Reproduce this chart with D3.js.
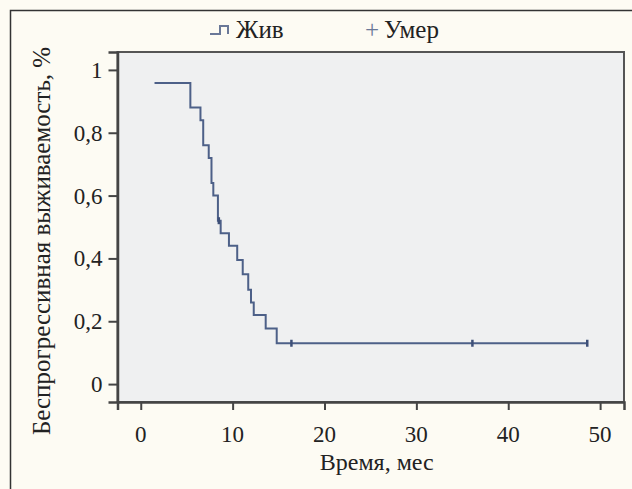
<!DOCTYPE html>
<html>
<head>
<meta charset="utf-8">
<script src="https://cdn.jsdelivr.net/npm/d3@7"></script>
<style>
  body { margin: 0; background: #fdfbf3; }
  .serif { font-family: "Liberation Serif"; fill: #222; }
</style>
</head>
<body>
<div id="chart"></div>
<script>
const width = 632;
const height = 489;

// Времена событий (мес) и выживаемость после каждого шага
const times = [1.5, 5.4, 6.5, 6.8, 7.4, 7.7, 7.9, 8.4, 8.7, 9.6, 10.5, 11.1, 11.7, 12.0, 12.3, 13.6, 14.8];
const survival = [0.958, 0.88, 0.84, 0.76, 0.72, 0.64, 0.60, 0.52, 0.48, 0.44, 0.395, 0.35, 0.30, 0.26, 0.22, 0.177, 0.13];
const endTime = 48.6;

// Цензурированные наблюдения
const censorTimes = [8.5, 16.4, 36.1, 48.6];
const censorValues = [0.52, 0.13, 0.13, 0.13];

const xTicks = [0, 10, 20, 30, 40, 50];
const yTicks = [0, 0.2, 0.4, 0.6, 0.8, 1];
const legendLabels = ["Жив", "Умер"];

const plot = { left: 117.5, right: 624, top: 52, bottom: 402 };

const svg = d3.select("#chart").append("svg")
    .attr("width", width)
    .attr("height", height);

// внешняя рамка
svg.append("rect")
    .attr("x", 10.5).attr("y", 10.5)
    .attr("width", 640).attr("height", 500)
    .attr("fill", "#fdfbf3")
    .attr("stroke", "#333")
    .attr("stroke-width", 1.5);

const x = d3.scaleLinear().domain([-2.53, 52.6]).range([plot.left, plot.right]);
const y = d3.scaleLinear().domain([-0.057, 1.057]).range([plot.bottom, plot.top]);

svg.append("rect")
    .attr("x", plot.left).attr("y", plot.top)
    .attr("width", plot.right - plot.left)
    .attr("height", plot.bottom - plot.top)
    .attr("fill", "#eff0f1")
    .attr("stroke", "#555")
    .attr("stroke-width", 2);

// оси (линии и засечки из d3.axis, подписи отдельно)
const fmt = d => d3.format("~g")(d).replace(".", ",");

const xAxis = svg.append("g")
    .attr("transform", `translate(0,${plot.bottom})`)
    .call(d3.axisBottom(x).tickValues(xTicks).tickSize(8).tickFormat(""));

const yAxis = svg.append("g")
    .attr("transform", `translate(${plot.left},0)`)
    .call(d3.axisLeft(y).tickValues(yTicks).tickSize(9).tickFormat(""));

[xAxis, yAxis].forEach(a => {
    a.select(".domain").attr("stroke", "#444").attr("stroke-width", 2.5);
    a.selectAll(".tick line").attr("stroke", "#444").attr("stroke-width", 2);
    a.selectAll(".tick text").remove();
});

svg.selectAll(".xlab")
    .data(xTicks)
    .enter().append("text")
    .attr("class", "serif")
    .attr("x", d => x(d))
    .attr("y", plot.bottom + 40)
    .attr("text-anchor", "middle")
    .attr("font-size", 23)
    .text(d => d);

svg.selectAll(".ylab")
    .data(yTicks)
    .enter().append("text")
    .attr("class", "serif")
    .attr("x", plot.left - 15)
    .attr("y", d => y(d) + 8)
    .attr("text-anchor", "end")
    .attr("font-size", 23)
    .text(fmt);

// кривая Каплана-Мейера
const pts = times.map((t, i) => [t, survival[i]]);
pts.push([endTime, survival[survival.length - 1]]);

svg.append("path")
    .datum(pts)
    .attr("fill", "none")
    .attr("stroke", "#4d6088")
    .attr("stroke-width", 2)
    .attr("d", d3.line().x(d => x(d[0])).y(d => y(d[1])).curve(d3.curveStepAfter));

svg.selectAll(".censor")
    .data(censorTimes)
    .enter().append("line")
    .attr("class", "censor")
    .attr("x1", d => x(d)).attr("x2", d => x(d))
    .attr("y1", (d, i) => y(censorValues[i]) - 3.5)
    .attr("y2", (d, i) => y(censorValues[i]) + 3.5)
    .attr("stroke", "#3d4f78")
    .attr("stroke-width", 2.5);

// подписи осей
svg.append("text")
    .attr("class", "serif")
    .attr("x", (plot.left + plot.right) / 2 + 6)
    .attr("y", 470)
    .attr("text-anchor", "middle")
    .attr("font-size", 24)
    .text("Время, мес");

svg.append("text")
    .attr("class", "serif")
    .attr("transform", "translate(50,241) rotate(-90)")
    .attr("text-anchor", "middle")
    .attr("font-size", 25)
    .text("Беспрогрессивная выживаемость, %");

// легенда
const legend = svg.append("g");
legend.append("path")
    .attr("d", "M210,34 H220 V26 H228 V34")
    .attr("fill", "none")
    .attr("stroke", "#6a7898")
    .attr("stroke-width", 2);
legend.append("text")
    .attr("class", "serif")
    .attr("x", 236).attr("y", 38)
    .attr("font-size", 25)
    .text(legendLabels[0]);
legend.append("text")
    .attr("class", "serif")
    .attr("x", 365).attr("y", 38)
    .attr("font-size", 25)
    .style("fill", "#6a7898")
    .text("+");
legend.append("text")
    .attr("class", "serif")
    .attr("x", 384).attr("y", 38)
    .attr("font-size", 25)
    .text(legendLabels[1]);
</script>
</body>
</html>
